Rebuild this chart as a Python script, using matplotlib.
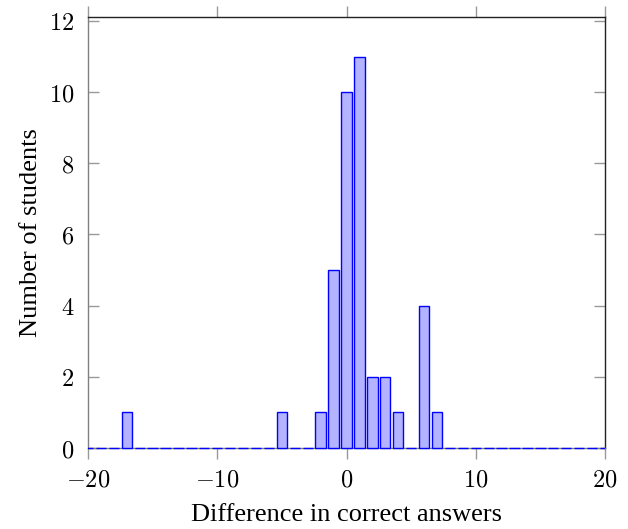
import matplotlib
matplotlib.use("Agg")
import matplotlib.pyplot as plt
from matplotlib.transforms import Bbox, TransformedBbox

differences = list(range(-20, 21))
students = [0, 0, 0, 1, 0, 0, 0, 0, 0, 0,
            0, 0, 0, 0, 0, 1, 0, 0, 1, 5,
            10, 11, 2, 2, 1, 0, 4, 1, 0, 0,
            0, 0, 0, 0, 0, 0, 0, 0, 0, 0,
            0]
x_ticks = [-20, -10, 0, 10, 20]
y_ticks = [0, 2, 4, 6, 8, 10, 12]

plt.rcParams['mathtext.fontset'] = 'cm'
plt.rcParams['axes.formatter.use_mathtext'] = True

fig = plt.figure(figsize=(6.28, 5.29), dpi=100)
ax = fig.add_axes([88/628, (529-448)/529, (605-88)/628, (448-17)/529])

bars = ax.bar(differences, students, width=0.8, color='#b3b3ff', edgecolor='#0000ff',
              linewidth=1.0, zorder=3)
clipbox = TransformedBbox(Bbox([[0, -0.05], [1, 1.05]]), ax.transAxes)
for p in bars.patches:
    p.set_clip_box(clipbox)

ax.set_xlim(-20, 20)
ax.set_ylim(0, 12.11)
ax.set_xticks(x_ticks)
ax.set_yticks(y_ticks)
ax.set_xticklabels([r'$%d$' % v if v >= 0 else r'$-%d$' % (-v) for v in x_ticks])
ax.set_yticklabels([r'$%d$' % v for v in y_ticks])

ax.tick_params(axis='x', direction='out', top=True, bottom=True, length=8,
               width=1, color='#999999', labelsize=17.5, pad=6)
ax.tick_params(axis='y', direction='in', left=True, right=True, length=8,
               width=1, color='#999999', labelsize=17.5, pad=10)

for s in ['left', 'bottom']:
    ax.spines[s].set_color('#808080')
for s in ['top', 'right']:
    ax.spines[s].set_color('#222222')
for s in ax.spines.values():
    s.set_linewidth(1.0)
    s.set_zorder(2)

ax.set_xlabel('Difference in correct answers', family='Liberation Serif',
              fontsize=19, labelpad=9)
ax.set_ylabel('Number of students', family='Liberation Serif',
              fontsize=19, labelpad=5)

fig.savefig('out.png', dpi=100)
